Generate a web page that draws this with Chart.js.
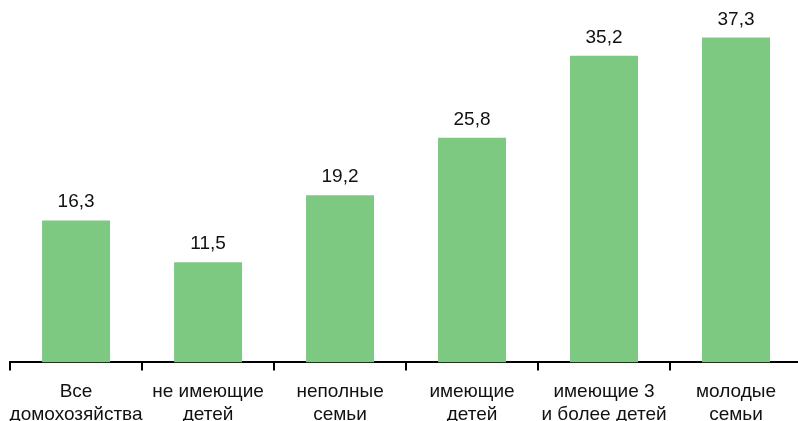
<!DOCTYPE html>
<html>
<head>
<meta charset="utf-8">
<script src="https://cdn.jsdelivr.net/npm/chart.js@4"></script>
<style>
    html, body { margin: 0; padding: 0; background: #fff; overflow: hidden; }
    #wrap { width: 811px; height: 436px; margin-left: -1px; }
</style>
</head>
<body>
<div id="wrap"><canvas id="chart" width="811" height="436"></canvas></div>
<script>
// Chart data
const categories = [
    ['Все', 'домохозяйства'],
    ['не имеющие', 'детей'],
    ['неполные', 'семьи'],
    ['имеющие', 'детей'],
    ['имеющие 3', 'и более детей'],
    ['молодые', 'семьи']
];
const values = [16.3, 11.5, 19.2, 25.8, 35.2, 37.3];

const FONT = '"Liberation Sans", Arial, sans-serif';

/**
 * Value labels above each bar
 */
const valueLabels = {
    id: 'valueLabels',
    afterDatasetsDraw(chart) {
        const ctx = chart.ctx;
        const meta = chart.getDatasetMeta(0);
        ctx.save();
        ctx.fillStyle = '#111';
        ctx.font = '19px ' + FONT;
        ctx.textAlign = 'center';
        ctx.textBaseline = 'alphabetic';
        meta.data.forEach((bar, i) => {
            ctx.fillText(values[i].toFixed(1).replace('.', ','), bar.x, bar.y - 13);
        });
        ctx.restore();
    }
};

new Chart(document.getElementById('chart').getContext('2d'), {
    type: 'bar',
    data: {
        labels: categories,
        datasets: [{
            data: values,
            backgroundColor: '#7DC982',
            borderWidth: 0,
            barPercentage: 0.515,
            categoryPercentage: 1
        }]
    },
    options: {
        responsive: false,
        animation: false,
        layout: {
            padding: { left: 7, right: 8, top: 14, bottom: 0 }
        },
        scales: {
            x: {
                border: { display: true, color: '#000', width: 2 },
                grid: {
                    offset: true,
                    drawOnChartArea: false,
                    drawTicks: true,
                    tickLength: 8,
                    color: '#000',
                    lineWidth: 2
                },
                ticks: {
                    color: '#111',
                    padding: 10,
                    maxRotation: 0,
                    autoSkip: false,
                    font: { family: FONT, size: 19, lineHeight: 1.2 }
                }
            },
            y: {
                display: false,
                min: 0,
                max: 40
            }
        },
        plugins: {
            legend: { display: false },
            tooltip: { enabled: false }
        }
    },
    plugins: [valueLabels]
});
</script>
</body>
</html>
